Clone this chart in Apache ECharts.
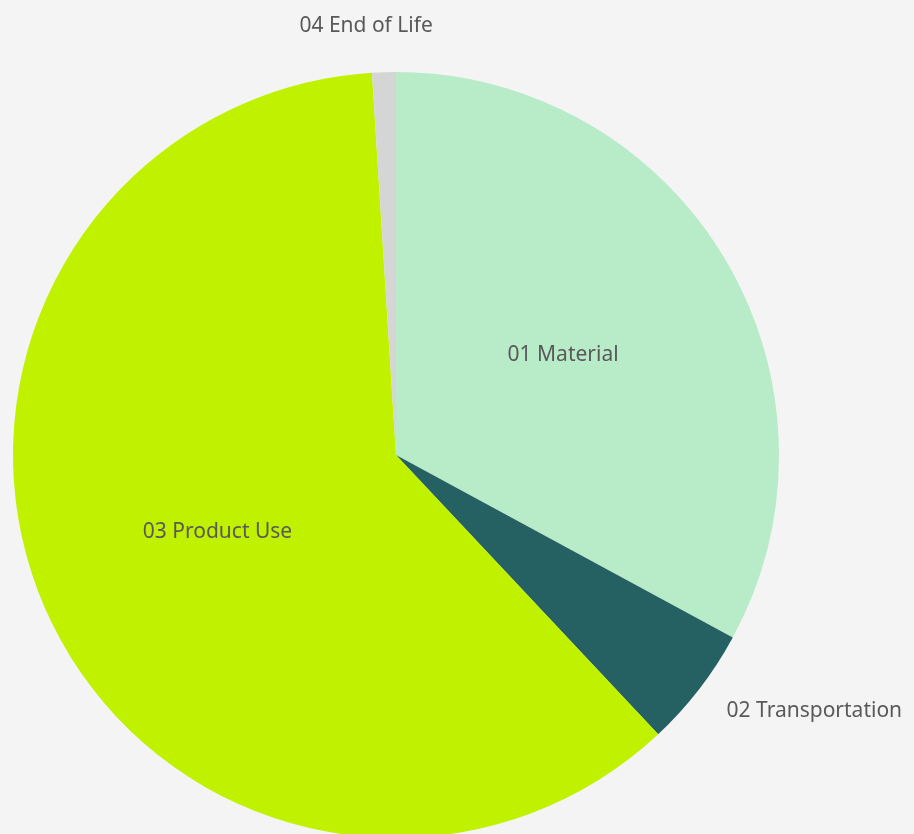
<!DOCTYPE html>
<html>
<head>
<meta charset="utf-8">
<script src="https://cdn.jsdelivr.net/npm/echarts@6/dist/echarts.min.js"></script>
<style>
html,body{margin:0;padding:0;background:#f4f4f4;}
#chart{width:914px;height:834px;}
</style>
</head>
<body>
<div id="chart"></div>
<script>
const categories = ['01 Material', '02 Transportation', '03 Product Use', '04 End of Life'];
const values = [32.9, 5.1, 61.0, 1.0];
const colors = ['#b8ebc8', '#256063', '#c0f200', '#d5d5d5'];
const labelPositions = ['inside', 'outside', 'inside', 'outside'];

const chart = echarts.init(document.getElementById('chart'), null, {renderer: 'canvas'});
const data = categories.map((c, i) => ({
  name: c,
  value: values[i],
  itemStyle: {color: colors[i]},
  label: {position: labelPositions[i]}
}));
chart.setOption({
  backgroundColor: '#f4f4f4',
  animation: false,
  series: [{
    type: 'pie',
    center: [396, 455],
    radius: [0, 383],
    startAngle: 90,
    clockwise: true,
    avoidLabelOverlap: false,
    data: data,
    label: {
      show: true,
      formatter: '{b}',
      fontFamily: 'Noto Sans',
      fontSize: 21,
      color: '#595959'
    },
    labelLine: {show: false, length: 28, length2: 0},
    labelLayout: function (params) {
      if (params.dataIndex === 3) {
        return {align: 'center', dx: -12, dy: -18};
      }
      if (params.dataIndex === 1) {
        return {dy: 5};
      }
      return {};
    },
    itemStyle: {borderWidth: 0}
  }]
});
</script>
</body>
</html>
